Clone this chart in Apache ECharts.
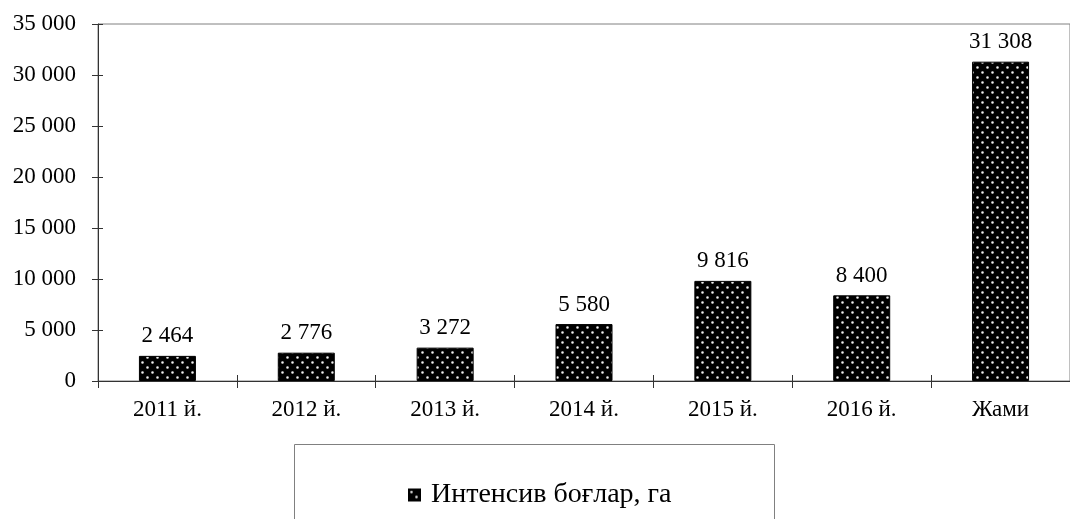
<!DOCTYPE html>
<html>
<head>
<meta charset="utf-8">
<script src="https://cdn.jsdelivr.net/npm/echarts@6/dist/echarts.min.js"></script>
<style>
  html, body { margin: 0; padding: 0; background: #fff; }
  #chart { width: 1070px; height: 519px; }
</style>
</head>
<body>
<div id="chart"></div>
<script>
const categories = ['2011 й.', '2012 й.', '2013 й.', '2014 й.', '2015 й.', '2016 й.', 'Жами'];
const values = [2464, 2776, 3272, 5580, 9816, 8400, 31308];
const seriesName = 'Интенсив боғлар, га';

const font = '"Liberation Serif", "Times New Roman", serif';

// black fill with staggered white dots
function dotPattern() {
  const c = document.createElement('canvas');
  c.width = 10;
  c.height = 10;
  const ctx = c.getContext('2d');
  ctx.fillStyle = '#000';
  ctx.fillRect(0, 0, 10, 10);
  ctx.fillStyle = '#f0f0f0';
  ctx.beginPath();
  ctx.arc(2.5, 2.5, 1.3, 0, Math.PI * 2);
  ctx.arc(7.5, 7.5, 1.3, 0, Math.PI * 2);
  ctx.fill();
  return c;
}

function fmt(v) {
  return String(v).replace(/\B(?=(\d{3})+(?!\d))/g, ' ');
}

const chart = echarts.init(document.getElementById('chart'));
const pattern = { image: dotPattern(), repeat: 'repeat' };

chart.setOption({
  animation: false,
  textStyle: { fontFamily: font },
  grid: {
    left: 98,
    top: 24,
    right: -12,
    bottom: 138,
    show: true,
    borderColor: '#808080',
    borderWidth: 1,
  },
  legend: {
    left: 403,
    top: 476,
    itemWidth: 11,
    itemHeight: 11,
    icon: 'rect',
    textStyle: { fontFamily: font, fontSize: 28, color: '#000', padding: [0, 0, 0, 6] },
    data: [seriesName],
  },
  graphic: [
    {
      type: 'rect',
      shape: { x: 294.5, y: 444.5, width: 480, height: 100 },
      style: { fill: 'none', stroke: '#808080', lineWidth: 1 },
      z: -1,
    },
  ],
  xAxis: [
    {
      type: 'category',
      data: categories,
      axisLine: { lineStyle: { color: '#333', width: 1 } },
      axisTick: { show: true, length: 7, lineStyle: { color: '#333' } },
      axisLabel: { fontFamily: font, fontSize: 23, color: '#000', margin: 17 },
    },
    {
      type: 'category',
      data: categories,
      position: 'bottom',
      axisLine: { show: false },
      axisTick: { show: true, inside: true, length: 6, lineStyle: { color: '#333' } },
      axisLabel: { show: false },
    },
  ],
  yAxis: [
    {
      type: 'value',
      min: 0,
      max: 35000,
      interval: 5000,
      axisLine: { show: true, lineStyle: { color: '#333', width: 1 } },
      axisTick: { show: true, length: 6, lineStyle: { color: '#333' } },
      axisLabel: { fontFamily: font, fontSize: 23, color: '#000', margin: 22, formatter: fmt },
      splitLine: { show: false },
    },
    {
      type: 'value',
      position: 'left',
      min: 0,
      max: 35000,
      interval: 5000,
      axisLine: { show: false },
      axisTick: { show: true, inside: true, length: 5, lineStyle: { color: '#333' } },
      axisLabel: { show: false },
      splitLine: { show: false },
    },
  ],
  series: [
    {
      name: seriesName,
      type: 'bar',
      data: values,
      barWidth: 57,
      itemStyle: { color: pattern, borderColor: '#000', borderWidth: 1 },
      label: {
        show: true,
        position: 'top',
        distance: 8,
        fontFamily: font,
        fontSize: 23,
        color: '#000',
        formatter: (p) => fmt(p.value),
      },
    },
  ],
});
</script>
</body>
</html>
